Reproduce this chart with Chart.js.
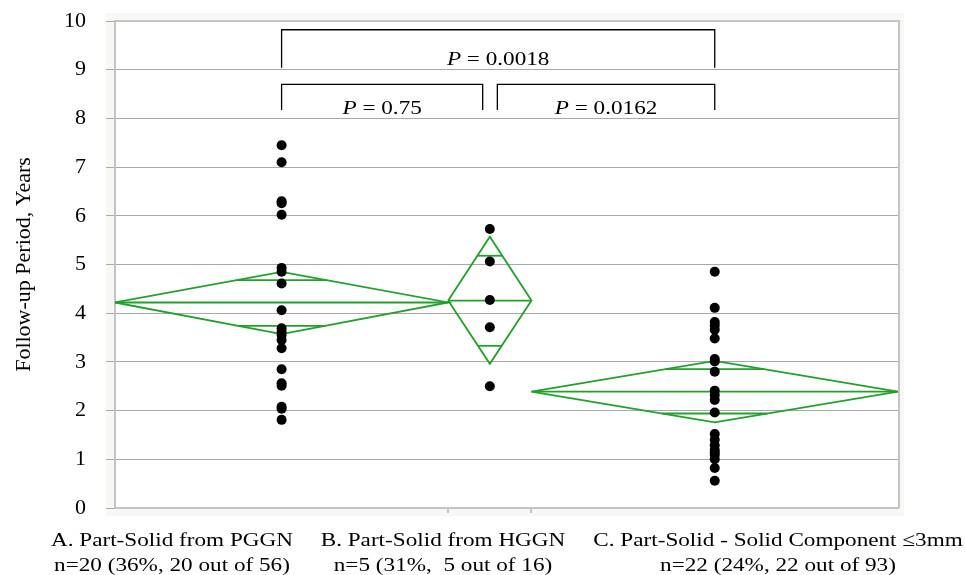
<!DOCTYPE html>
<html>
<head>
<meta charset="utf-8">
<script src="https://cdn.jsdelivr.net/npm/chart.js@4.4.1/dist/chart.umd.min.js"></script>
<style>
  html, body { margin: 0; padding: 0; background: #fff; }
  #wrap { width: 965px; height: 575px; }
</style>
</head>
<body>
<div id="wrap"><canvas id="chart" width="965" height="575"></canvas></div>
<script>
// groups, n per group (x axis width of each group is proportional to n)
const categoryLine1 = ['A. Part-Solid from PGGN', 'B. Part-Solid from HGGN', 'C. Part-Solid - Solid Component \u22643mm'];
const categoryLine2 = ['n=20 (36%, 20 out of 56)', 'n=5 (31%,  5 out of 16)', 'n=22 (24%, 22 out of 93)'];
const groupSizes = [20, 5, 22];

// follow-up period, years (one value per patient)
const followA = [7.45, 7.10, 6.30, 6.26, 6.02, 4.93, 4.85, 4.61, 4.06, 3.69, 3.62, 3.55, 3.45, 3.28, 2.85, 2.56, 2.51, 2.08, 2.04, 1.81];
const followB = [5.73, 5.06, 4.27, 3.71, 2.50];
const followC = [4.85, 4.11, 3.82, 3.75, 3.66, 3.48, 3.06, 3.01, 2.80, 2.41, 2.32, 2.22, 1.96, 1.52, 1.40, 1.29, 1.19, 1.14, 1.09, 1.00, 0.82, 0.56];

// means diamonds
const groupMeans = [4.22, 4.26, 2.39];
const ciUpper = [4.85, 5.57, 3.02];
const ciLower = [3.57, 2.96, 1.76];
const overlapUpper = [4.68, 5.18, 2.85];
const overlapLower = [3.74, 3.33, 1.94];

// comparison brackets
const bracketLeft = [10, 10, 22.95];
const bracketRight = [36, 22.07, 36];
const bracketTop = [9.82, 8.70, 8.70];
const bracketFoot = [9.04, 8.17, 8.17];
const pValues = ['0.0018', '0.75', '0.0162'];
const pBaseline = [9.10, 8.09, 8.09];

const yTicks = [0, 1, 2, 3, 4, 5, 6, 7, 8, 9, 10];

const GREEN = '#22a02c';
const SERIF = '"Liberation Serif", "Times New Roman", serif';

const groupStart = groupSizes.map((n, i) => groupSizes.slice(0, i).reduce((a, b) => a + b, 0));
const groupCenter = groupSizes.map((n, i) => groupStart[i] + n / 2);
const totalN = groupSizes.reduce((a, b) => a + b, 0);

const lineSet = (data, color, width, order) => ({
  data, showLine: true, borderColor: color, borderWidth: width,
  pointRadius: 0, fill: false, order
});

const datasets = [];

[followA, followB, followC].forEach((vals, i) => {
  datasets.push({
    data: vals.map(v => ({x: groupCenter[i], y: v})),
    backgroundColor: '#000', borderColor: '#000', borderWidth: 0,
    pointRadius: 5, order: 0
  });
});

groupSizes.forEach((n, i) => {
  const x0 = groupStart[i], x1 = groupStart[i] + n, xc = groupCenter[i];
  const m = groupMeans[i];
  datasets.push(lineSet([
    {x: x0, y: m}, {x: xc, y: ciUpper[i]}, {x: x1, y: m}, {x: xc, y: ciLower[i]}, {x: x0, y: m}
  ], GREEN, 1.8, 1));
  datasets.push(lineSet([{x: x0, y: m}, {x: x1, y: m}], GREEN, 1.8, 1));
  // overlap marks run from one diamond edge to the other
  const half = n / 2;
  const up = half * (1 - (overlapUpper[i] - m) / (ciUpper[i] - m));
  const lo = half * (1 - (m - overlapLower[i]) / (m - ciLower[i]));
  datasets.push(lineSet([{x: xc - up, y: overlapUpper[i]}, {x: xc + up, y: overlapUpper[i]}], GREEN, 1.8, 1));
  datasets.push(lineSet([{x: xc - lo, y: overlapLower[i]}, {x: xc + lo, y: overlapLower[i]}], GREEN, 1.8, 1));
});

bracketLeft.forEach((x0, i) => {
  datasets.push(lineSet([
    {x: x0, y: bracketFoot[i]}, {x: x0, y: bracketTop[i]},
    {x: bracketRight[i], y: bracketTop[i]}, {x: bracketRight[i], y: bracketFoot[i]}
  ], '#000', 1.3, 2));
});

function stretchedText(ctx, parts, cx, baseline, sx) {
  let w = 0;
  parts.forEach(p => { ctx.font = p.font; p.w = ctx.measureText(p.text).width; w += p.w; });
  ctx.save();
  ctx.translate(cx, baseline);
  ctx.scale(sx, 1);
  ctx.textBaseline = 'alphabetic';
  ctx.textAlign = 'left';
  ctx.fillStyle = '#000';
  let x = -w / 2;
  parts.forEach(p => { ctx.font = p.font; ctx.fillText(p.text, x, 0); x += p.w; });
  ctx.restore();
}

const framePlugin = {
  id: 'frame',
  beforeDraw(chart) {
    const {ctx, chartArea: a} = chart;
    ctx.save();
    ctx.fillStyle = '#f7f7f3';
    ctx.fillRect(a.left - 9, a.top - 8, a.right - a.left + 15, a.bottom - a.top + 16);
    ctx.fillStyle = '#fff';
    ctx.fillRect(a.left, a.top, a.right - a.left, a.bottom - a.top);
    ctx.restore();
  },
  afterDraw(chart) {
    const {ctx, chartArea: a, scales} = chart;
    ctx.save();
    ctx.strokeStyle = '#c4c4c4';
    ctx.lineWidth = 2;
    ctx.beginPath();
    ctx.moveTo(a.left - 1, a.top);
    ctx.lineTo(a.right + 1, a.top);
    ctx.lineTo(a.right + 1, a.bottom);
    ctx.stroke();
    ctx.restore();

    const sx = 1.22;
    pValues.forEach((p, i) => {
      const cx = scales.x.getPixelForValue((bracketLeft[i] + bracketRight[i]) / 2);
      const by = scales.y.getPixelForValue(pBaseline[i]);
      stretchedText(ctx, [
        {text: 'P', font: 'italic 19px ' + SERIF},
        {text: ' = ' + p, font: '19px ' + SERIF}
      ], cx, by, sx);
    });

    const labelCenters = [172, 443, 778];
    categoryLine1.forEach((t, i) => {
      stretchedText(ctx, [{text: t, font: '19px ' + SERIF}], labelCenters[i], a.bottom + 38, sx);
      stretchedText(ctx, [{text: categoryLine2[i], font: '19px ' + SERIF}], labelCenters[i], a.bottom + 63, sx);
    });
  }
};

new Chart(document.getElementById('chart'), {
  type: 'scatter',
  data: {datasets},
  plugins: [framePlugin],
  options: {
    responsive: false,
    devicePixelRatio: 1,
    animation: false,
    layout: {padding: {top: 21, right: 67, left: 0, bottom: 0}},
    plugins: {legend: {display: false}, tooltip: {enabled: false}},
    scales: {
      x: {
        type: 'linear', min: 0, max: totalN,
        afterBuildTicks: axis => { axis.ticks = [20, 25].map(v => ({value: v})); },
        afterFit: axis => { axis.height = 67; axis.paddingLeft = 0; axis.paddingRight = 0; },
        ticks: {callback: () => ''},
        grid: {drawOnChartArea: false, color: '#c4c4c4', lineWidth: 2, tickLength: 5},
        border: {display: true, color: '#c4c4c4', width: 2}
      },
      y: {
        min: 0, max: 10,
        afterBuildTicks: axis => { axis.ticks = yTicks.map(v => ({value: v})); },
        afterFit: axis => { axis.width = 115; axis.paddingTop = 0; axis.paddingBottom = 0; },
        ticks: {color: '#000', font: {family: SERIF, size: 22}, padding: 20},
        grid: {color: '#a9a9a9', lineWidth: 1, tickLength: 9},
        border: {display: true, color: '#c4c4c4', width: 2},
        title: {
          display: true, text: 'Follow-up Period, Years', color: '#000',
          font: {family: SERIF, size: 22}, padding: {top: 11, bottom: 0}
        }
      }
    }
  }
});
</script>
</body>
</html>
